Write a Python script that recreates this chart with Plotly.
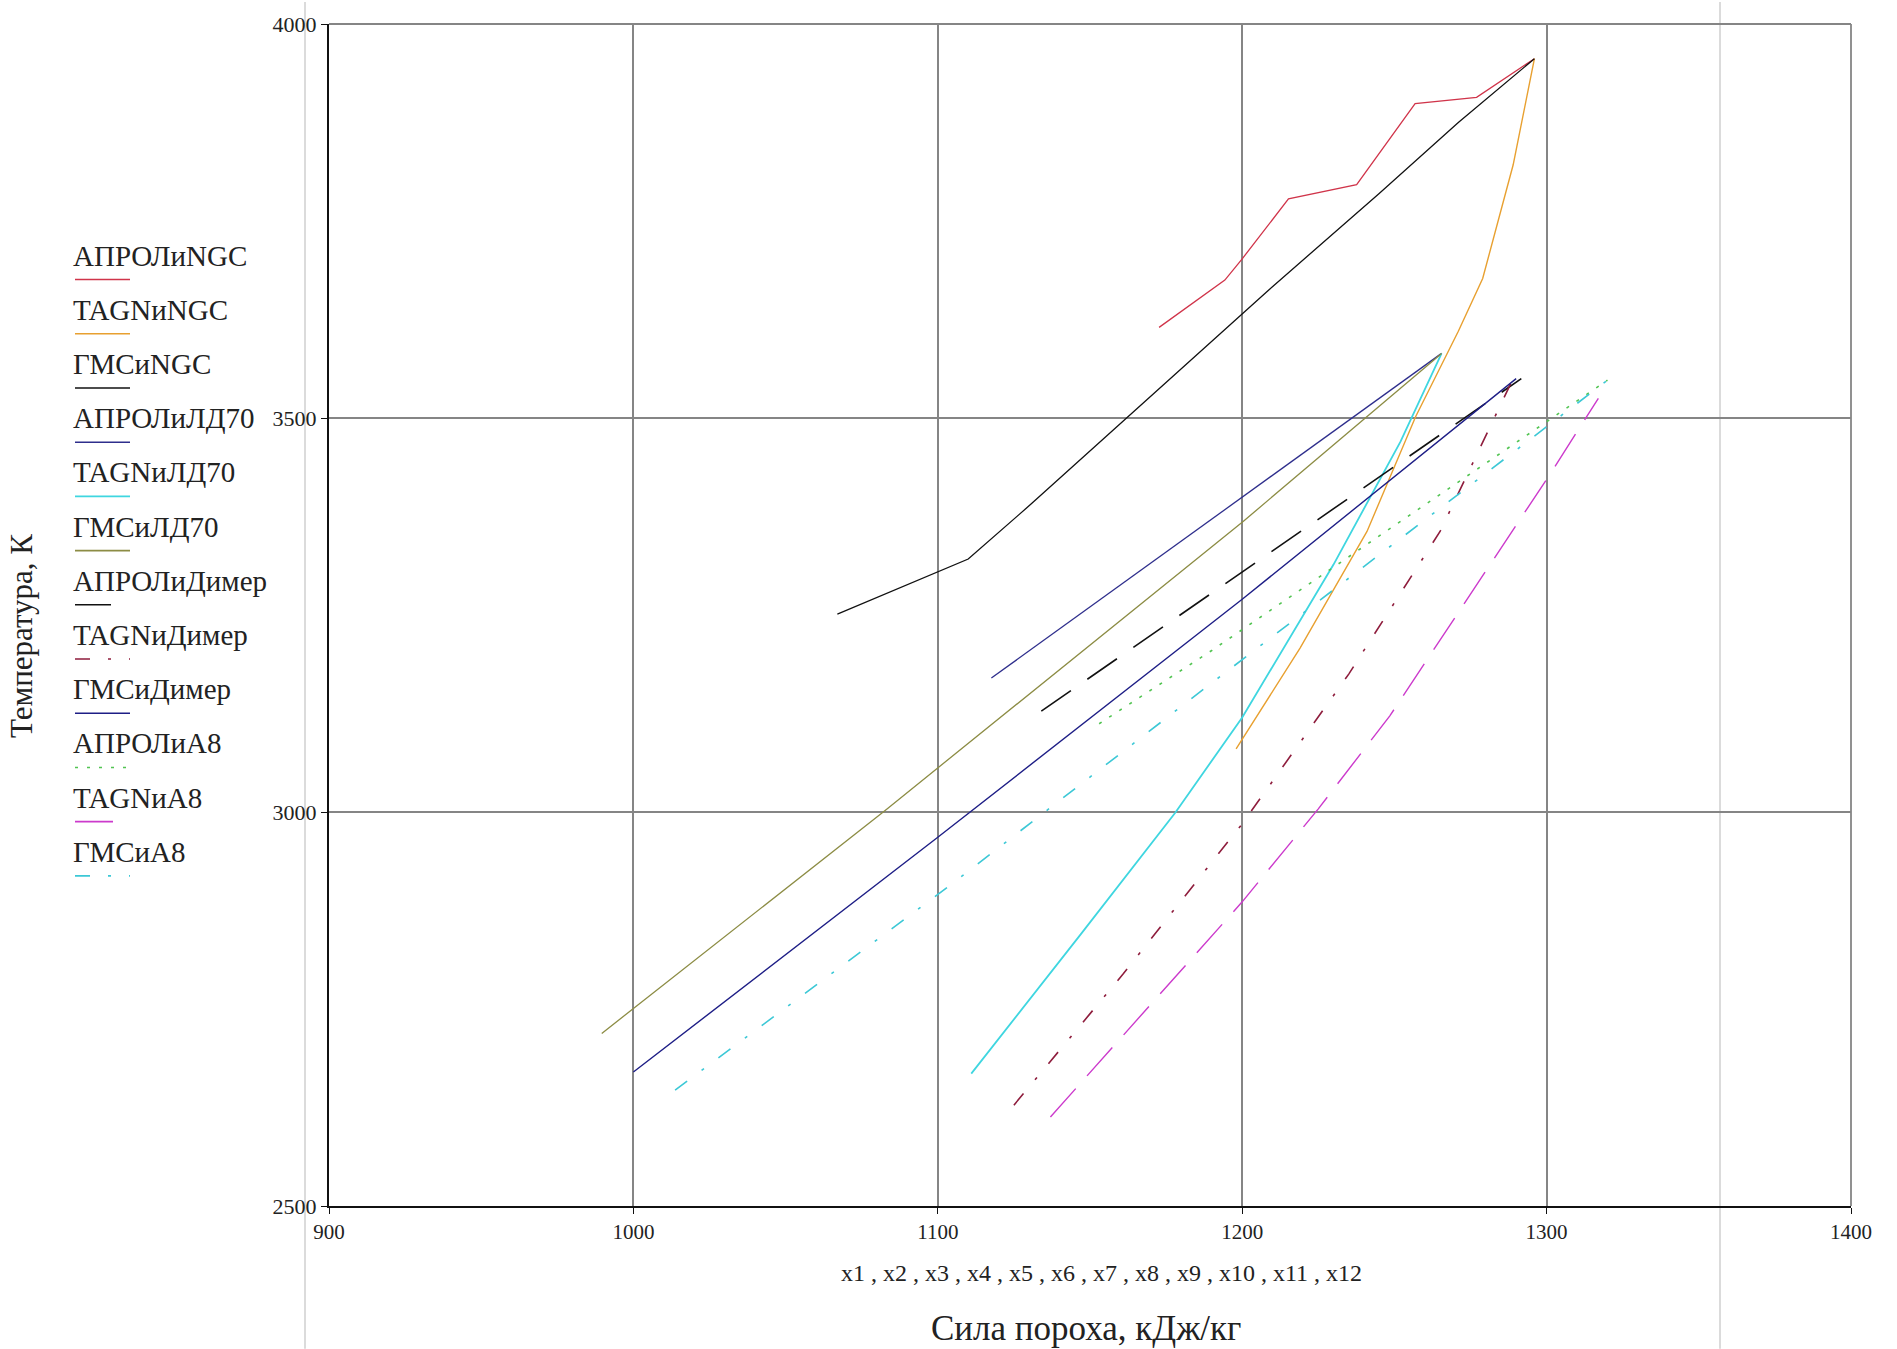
import plotly.graph_objects as go

# ---------------- data ----------------
x_apr_ngc = [1172.7, 1194.3, 1200, 1215.2, 1237.6, 1256.8, 1277, 1296]
t_apr_ngc = [3615, 3675, 3702, 3778, 3796, 3899, 3907, 3956]

x_tag_ngc = [1198, 1219, 1241, 1257, 1271, 1279, 1289, 1296]
t_tag_ngc = [3080, 3208, 3356, 3502, 3610, 3677, 3821, 3956]

x_gms_ngc = [1067, 1110, 1131, 1208, 1245, 1271, 1296]
t_gms_ngc = [3251, 3321, 3392, 3660, 3785, 3875, 3956]

x_apr_ld70 = [1117.6, 1200.4, 1265.5]
t_apr_ld70 = [3170, 3401, 3582]

x_tag_ld70 = [1111, 1130, 1147, 1178, 1200, 1230, 1252, 1265.5]
t_tag_ld70 = [2668, 2761, 2845, 2999, 3120, 3314, 3470, 3582]

x_gms_ld70 = [989.6, 1082.7, 1200.4, 1265.5]
t_gms_ld70 = [2719, 3002, 3369, 3582]

x_apr_dim = [1134, 1195, 1291.7]
t_apr_dim = [3128, 3291, 3550]

x_tag_dim = [1125, 1161, 1200, 1235, 1265, 1289]
t_tag_dim = [2628, 2795, 2985, 3175, 3356, 3550]

x_gms_dim = [1000, 1100, 1200, 1290]
t_gms_dim = [2670, 2968, 3270, 3550]

x_apr_a8 = [1153, 1190, 1243, 1320]
t_apr_a8 = [3112, 3205, 3345, 3548]

x_tag_a8 = [1137, 1200, 1225, 1248.5, 1301, 1317]
t_tag_a8 = [2613, 2886, 3004, 3122, 3428, 3525]

x_gms_a8 = [1013.7, 1103, 1189.4, 1320]
t_gms_a8 = [2647, 2904, 3162, 3548]

series_names = ["АПРОЛиNGC", "TAGNиNGC", "ГМСиNGC",
                "АПРОЛиЛД70", "TAGNиЛД70", "ГМСиЛД70",
                "АПРОЛиДимер", "TAGNиДимер", "ГМСиДимер",
                "АПРОЛиА8", "TAGNиА8", "ГМСиА8"]
series_x = [x_apr_ngc, x_tag_ngc, x_gms_ngc, x_apr_ld70, x_tag_ld70, x_gms_ld70,
            x_apr_dim, x_tag_dim, x_gms_dim, x_apr_a8, x_tag_a8, x_gms_a8]
series_t = [t_apr_ngc, t_tag_ngc, t_gms_ngc, t_apr_ld70, t_tag_ld70, t_gms_ld70,
            t_apr_dim, t_tag_dim, t_gms_dim, t_apr_a8, t_tag_a8, t_gms_a8]

x_ticks = [900, 1000, 1100, 1200, 1300, 1400]
y_ticks = [2500, 3000, 3500, 4000]

# ---------------- styles ----------------
colors = ["#d0344a", "#e8a030", "#111111",
          "#2e2e8c", "#3fd6e0", "#8c8c44",
          "#111111", "#8e1c3c", "#1e1e86",
          "#52c452", "#cc3acc", "#3cc8d6"]
dashes = ["solid", "solid", "solid",
          "solid", "solid", "solid",
          "36px,20px", "15px,18px,3px,18px", "solid",
          "3px,9px", "38px,17px", "15px,18px,3px,18px"]
widths = [1.3, 1.4, 1.3, 1.3, 1.8, 1.3, 1.6, 1.6, 1.4, 1.6, 1.4, 1.6]

W, H = 1897, 1349
L, R, T, B = 329, 1851, 22, 1206
FONT = "Liberation Serif, Times New Roman, serif"
GRID = "#858585"


def px(x):
    return (x - L) / (R - L)


def py(y):
    return (B - y) / (B - T)


fig = go.Figure()
for xs, ts, n, c, d, w in zip(series_x, series_t, series_names, colors, dashes, widths):
    fig.add_trace(go.Scatter(x=xs, y=ts, mode="lines", name=n,
                             line=dict(color=c, dash=d, width=w),
                             showlegend=False, hoverinfo="x+y+name"))

annotations = []
shapes = []

# custom legend: text above a short sample line
for i, (n, c, d) in enumerate(zip(series_names, colors, dashes)):
    ty = 254 + i * 54.3
    ly = ty + 24
    annotations.append(dict(text=n, x=px(71), y=py(ty), xref="paper", yref="paper",
                            xanchor="left", yanchor="middle", showarrow=False,
                            font=dict(family=FONT, size=29, color="#222222")))
    shapes.append(dict(type="line", xref="paper", yref="paper",
                       x0=px(75), x1=px(130), y0=py(ly), y1=py(ly),
                       line=dict(color=c, width=1.6, dash=d)))

# axis labels
annotations.append(dict(text="x1 , x2 , x3 , x4 , x5 , x6 , x7 , x8 , x9 , x10 , x11 , x12",
                        x=px(1101), y=py(1273), xref="paper", yref="paper",
                        xanchor="center", yanchor="middle", showarrow=False,
                        font=dict(family=FONT, size=24, color="#222222")))
annotations.append(dict(text="Сила пороха, кДж/кг",
                        x=px(1086), y=py(1329), xref="paper", yref="paper",
                        xanchor="center", yanchor="middle", showarrow=False,
                        font=dict(family=FONT, size=35, color="#222222")))
annotations.append(dict(text="Температура, К", textangle=-90,
                        x=px(22), y=py(635), xref="paper", yref="paper",
                        xanchor="center", yanchor="middle", showarrow=False,
                        font=dict(family=FONT, size=31, color="#222222")))

# faint region borders of the original worksheet
for gx in (305, 1720):
    shapes.append(dict(type="line", xref="paper", yref="paper",
                       x0=px(gx), x1=px(gx), y0=py(H), y1=py(0),
                       line=dict(color="#cfcfcf", width=1.5), layer="below"))

# grey frame on the top and right edges (grid lines at 4000 and 1400)
shapes.append(dict(type="line", xref="paper", yref="paper", x0=0, x1=1, y0=1, y1=1,
                   line=dict(color=GRID, width=1.8)))
shapes.append(dict(type="line", xref="paper", yref="paper", x0=1, x1=1, y0=0, y1=1,
                   line=dict(color=GRID, width=1.8)))

fig.update_layout(
    width=W, height=H, autosize=False,
    margin=dict(l=L, r=W - R, t=T, b=H - B, pad=0),
    paper_bgcolor="white", plot_bgcolor="white",
    font=dict(family=FONT, color="#222222"),
    annotations=annotations, shapes=shapes,
    xaxis=dict(range=[900, 1400], tickvals=x_ticks, ticktext=[str(v) for v in x_ticks],
               showgrid=True, gridcolor=GRID, gridwidth=1.6,
               showline=True, linecolor="#111111", linewidth=2,
               ticks="outside", ticklen=6, tickcolor="#111111",
               tickfont=dict(family=FONT, size=21, color="#222222"),
               zeroline=False),
    yaxis=dict(range=[2500, 4000], tickvals=y_ticks, ticktext=[str(v) for v in y_ticks],
               showgrid=True, gridcolor=GRID, gridwidth=1.6,
               showline=True, linecolor="#111111", linewidth=2,
               ticks="outside", ticklen=6, tickcolor="#111111",
               tickfont=dict(family=FONT, size=22, color="#222222"),
               zeroline=False),
)

fig.write_html("out.html", config={"displayModeBar": False},
               post_script="document.body.style.margin='0';")
